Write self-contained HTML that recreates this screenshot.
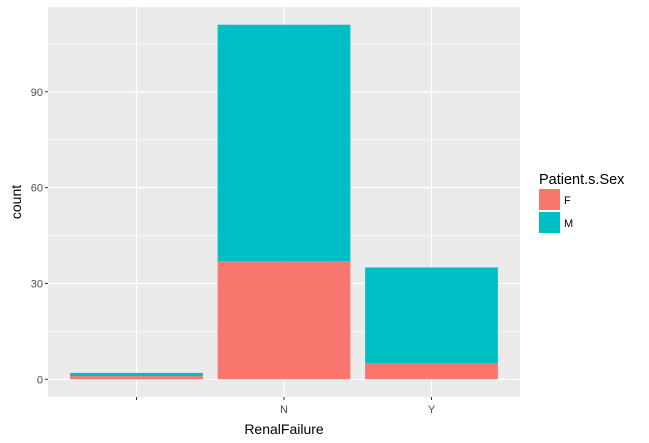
<!DOCTYPE html>
<html><head><meta charset="utf-8"><style>
body{margin:0;background:#fff;}
svg{display:block;font-family:"Liberation Sans",Arial,sans-serif;}
</style></head><body>
<svg id="c" width="649" height="443" xmlns="http://www.w3.org/2000/svg"></svg>
<script>
const categories = ["", "N", "Y"];
const femaleCounts = [1, 37, 5];
const maleCounts = [1, 74, 30];
const yTicks = [0, 30, 60, 90];
const yMinor = [15, 45, 75, 105];
const seriesNames = ["F", "M"];

const NS = "http://www.w3.org/2000/svg";
const svg = document.getElementById("c");
const L = 48, R = 520, T = 7, B = 397;
const totals = categories.map((c, i) => femaleCounts[i] + maleCounts[i]);
const ymax = Math.max(...totals);
const y0 = -0.05 * ymax, y1 = ymax * 1.05;
const ys = v => B - (v - y0) / (y1 - y0) * (B - T);
const n = categories.length;
const unit = (R - L) / (n + 0.2);
const xs = i => L + (i + 0.6) * unit;
const colors = ["#F8766D", "#00BFC4"];

function el(tag, attrs, parent) {
  const e = document.createElementNS(NS, tag);
  for (const k in attrs) e.setAttribute(k, attrs[k]);
  (parent || svg).appendChild(e);
  return e;
}

const panel = el("rect", {x: L, y: T, width: R - L, height: B - T, fill: "#EBEBEB"});



yMinor.forEach(v => {
  const g = el("line", {x1: L, x2: R, y1: ys(v), y2: ys(v), stroke: "#fff", "stroke-width": 0.6});
  
  
});
yTicks.forEach(v => {
  const g = el("line", {x1: L, x2: R, y1: ys(v), y2: ys(v), stroke: "#fff", "stroke-width": 1.1});
  
  
  const t = el("line", {x1: L - 3, x2: L, y1: ys(v), y2: ys(v), stroke: "#333", "stroke-width": 1});
  
  
  const lb = el("text", {x: L - 5, y: ys(v) + 4, "text-anchor": "end", "font-size": 11, fill: "#4D4D4D"});
  lb.textContent = v;
  
  
});
categories.forEach((c, i) => {
  const g = el("line", {x1: xs(i), x2: xs(i), y1: T, y2: B, stroke: "#fff", "stroke-width": 1.1});
  
  
  const t = el("line", {x1: xs(i), x2: xs(i), y1: B, y2: B + 3, stroke: "#333", "stroke-width": 1});
  
  
  const lb = el("text", {x: xs(i), y: B + 16, "text-anchor": "middle", "font-size": 11, fill: "#4D4D4D"});
  lb.textContent = c;
  
  
});
const bw = unit * 0.9;
categories.forEach((c, i) => {
  const f = femaleCounts[i], m = maleCounts[i];
  const r1 = el("rect", {x: xs(i) - bw / 2, y: ys(f), width: bw, height: ys(0) - ys(f), fill: colors[0]});
  
  
  const r2 = el("rect", {x: xs(i) - bw / 2, y: ys(f + m), width: bw, height: ys(f) - ys(f + m), fill: colors[1]});
  
  
});

const xt = el("text", {x: (L + R) / 2, y: 434, "text-anchor": "middle", "font-size": 14, fill: "#000"});
xt.textContent = "RenalFailure";


const yt = el("text", {x: 0, y: 0, "text-anchor": "middle", "font-size": 14, fill: "#000", transform: `translate(21,${(T + B) / 2}) rotate(-90)`});
yt.textContent = "count";



const lt = el("text", {x: 539, y: 184, "font-size": 14.5, fill: "#000"});
lt.textContent = "Patient.s.Sex";


seriesNames.forEach((s, i) => {
  const k = el("rect", {x: 539, y: 189 + i * 23, width: 21, height: 21, fill: colors[i]});
  
  
  const t = el("text", {x: 564, y: 204 + i * 23, "font-size": 11, fill: "#000"});
  t.textContent = s;
  
  
});
</script>
</body></html>
